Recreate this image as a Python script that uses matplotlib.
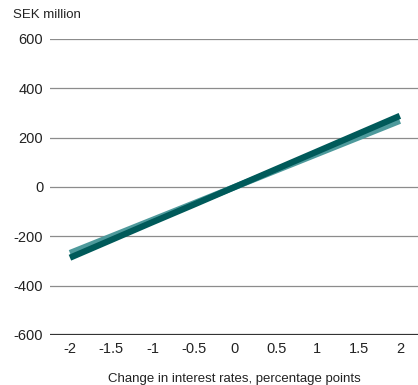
import matplotlib
matplotlib.use("Agg")
import matplotlib.pyplot as plt

rate_change = [-2, -1.5, -1, -0.5, 0, 0.5, 1, 1.5, 2]
series_dark = [-287, -215, -143, -72, 0, 72, 144, 216, 288]
series_light = [-268, -201, -134, -67, 0, 67, 134, 201, 268]
x_ticks = [-2, -1.5, -1, -0.5, 0, 0.5, 1, 1.5, 2]
x_tick_labels = ["-2", "-1.5", "-1", "-0.5", "0", "0.5", "1", "1.5", "2"]
y_ticks = [-600, -400, -200, 0, 200, 400, 600]
y_tick_labels = ["-600", "-400", "-200", "0", "200", "400", "600"]

plt.rcParams['font.family'] = ['Liberation Sans', 'DejaVu Sans']
plt.rcParams['axes.unicode_minus'] = False

fig = plt.figure(figsize=(4.18, 3.85), dpi=100)
ax = fig.add_axes([0.12, 0.13, 0.88, 0.769])

for y in y_ticks[1:]:
    ax.axhline(y, color='#8c8c8c', lw=0.9, zorder=1)
ax.axhline(-600, color='#333333', lw=1.6, zorder=1)

ax.plot(rate_change, series_light, color='#4e9a9c', lw=4.5, solid_capstyle='butt', zorder=2)
ax.plot(rate_change, series_dark, color='#005a5a', lw=4.5, solid_capstyle='butt', zorder=3)

ax.set_xlim(-2.24, 2.22)
ax.set_ylim(-600, 600)
ax.set_xticks(x_ticks)
ax.set_xticklabels(x_tick_labels)
ax.set_yticks(y_ticks)
ax.set_yticklabels(y_tick_labels)
for s in ax.spines.values():
    s.set_visible(False)
ax.tick_params(axis='both', length=0, labelsize=10.5, colors='#222222')
ax.tick_params(axis='y', pad=5)
ax.tick_params(axis='x', pad=5)
ax.set_xlabel("Change in interest rates, percentage points", fontsize=9.5, color='#222222', labelpad=12)
fig.text(0.03, 0.945, "SEK million", fontsize=9.5, color='#222222', ha='left', va='bottom')

fig.savefig("out.png", dpi=100)
